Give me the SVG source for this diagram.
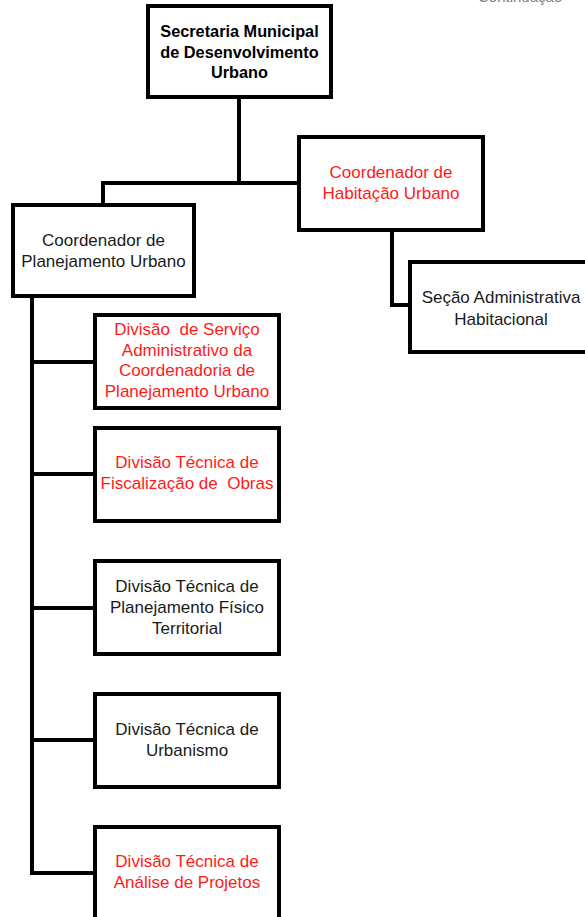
<svg xmlns="http://www.w3.org/2000/svg" width="585" height="917" viewBox="0 0 585 917">
  <style>
    .box { fill: #ffffff; stroke: #000000; stroke-width: 4; }
    .wire { fill: none; stroke: #000000; stroke-width: 4; stroke-linejoin: miter; }
    text { font-family: "Liberation Sans", Arial, sans-serif; font-size: 17px; text-anchor: middle; white-space: pre; }
    .dark { fill: #1a1a1a; }
    .red { fill: #ff1a1a; }
    .head { font-weight: bold; font-size: 16.3px; fill: #000000; }
    .note { fill: #7f7f7f; font-size: 15px; text-anchor: start; }
  </style>

  <rect width="585" height="917" fill="#ffffff"/>

  <!-- page label running off the top edge -->
  <text class="note" x="478" y="2">Continuação</text>

  <!-- connectors -->
  <g id="connectors">
    <path class="wire" d="M239 97 V183 M103 204 V183 H299"/>
    <path class="wire" d="M392 230 V305 H410"/>
    <path class="wire" d="M32 296 V873 H95 M32 362 H95 M32 474 H95 M32 608 H95 M32 740 H95"/>
  </g>

  <g id="secretaria">
    <rect class="box" x="148" y="6" width="183" height="91"/>
    <text class="head" x="239.5" y="37">Secretaria Municipal</text>
    <text class="head" x="239.5" y="57.5">de Desenvolvimento</text>
    <text class="head" x="239.5" y="78">Urbano</text>
  </g>

  <g id="coord-habitacao">
    <rect class="box" x="299" y="137" width="184" height="93"/>
    <text class="red" x="391" y="178">Coordenador de</text>
    <text class="red" x="391" y="199">Habitação Urbano</text>
  </g>

  <g id="secao-habitacional">
    <rect class="box" x="410" y="262" width="180" height="90"/>
    <text class="dark" x="501" y="303">Seção Administrativa</text>
    <text class="dark" x="501" y="325">Habitacional</text>
  </g>

  <g id="coord-planejamento">
    <rect class="box" x="13" y="205" width="181" height="91"/>
    <text class="dark" x="103.5" y="246">Coordenador de</text>
    <text class="dark" x="103.5" y="267">Planejamento Urbano</text>
  </g>

  <g id="div-servico-administrativo">
    <rect class="box" x="95" y="315" width="184" height="93"/>
    <text class="red" x="187" y="335">Divisão  de Serviço</text>
    <text class="red" x="187" y="355.5">Administrativo da</text>
    <text class="red" x="187" y="376">Coordenadoria de</text>
    <text class="red" x="187" y="397">Planejamento Urbano</text>
  </g>

  <g id="div-fiscalizacao">
    <rect class="box" x="95" y="428" width="184" height="93"/>
    <text class="red" x="187" y="468">Divisão Técnica de</text>
    <text class="red" x="187" y="488.5">Fiscalização de  Obras</text>
  </g>

  <g id="div-planejamento-fisico">
    <rect class="box" x="95" y="561" width="184" height="93"/>
    <text class="dark" x="187" y="592">Divisão Técnica de</text>
    <text class="dark" x="187" y="613">Planejamento Físico</text>
    <text class="dark" x="187" y="633.5">Territorial</text>
  </g>

  <g id="div-urbanismo">
    <rect class="box" x="95" y="694" width="184" height="93"/>
    <text class="dark" x="187" y="735">Divisão Técnica de</text>
    <text class="dark" x="187" y="755.5">Urbanismo</text>
  </g>

  <g id="div-analise-projetos">
    <rect class="box" x="95" y="827" width="184" height="100"/>
    <text class="red" x="187" y="867">Divisão Técnica de</text>
    <text class="red" x="187" y="887.5">Análise de Projetos</text>
  </g>
</svg>
